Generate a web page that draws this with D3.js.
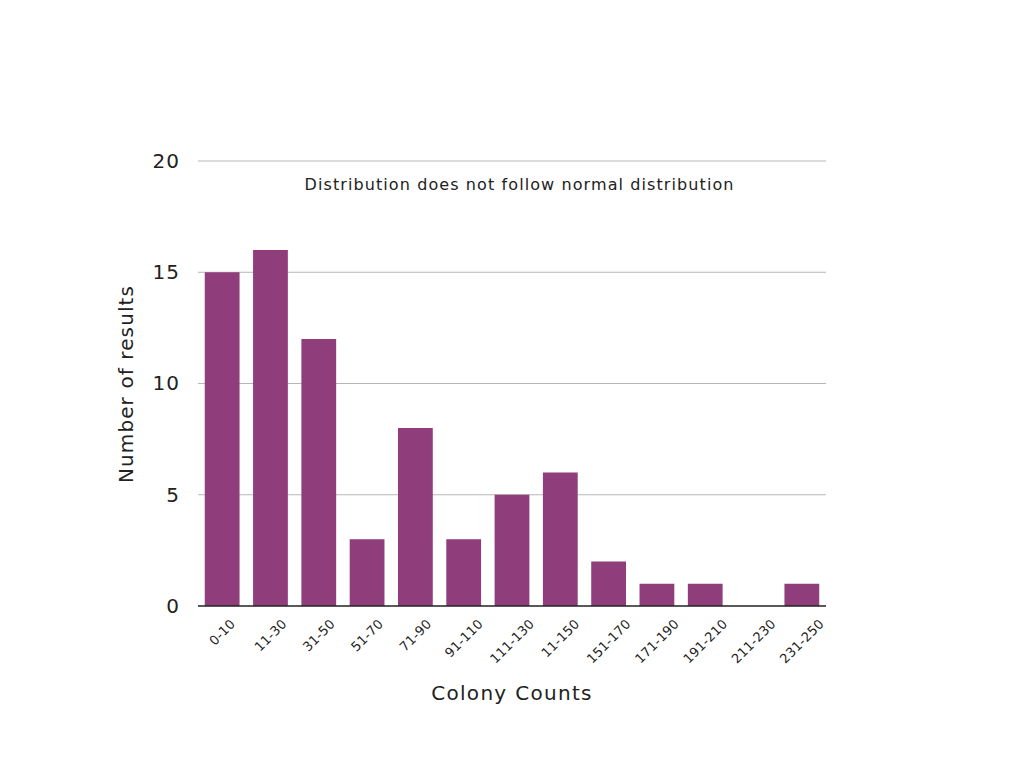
<!DOCTYPE html>
<html><head><meta charset="utf-8">
<script src="https://cdn.jsdelivr.net/npm/d3@7"></script>
<style>body{margin:0;background:#fff}text{font-family:"DejaVu Sans",sans-serif;fill:#222}</style>
</head><body><svg id="c" width="1024" height="768"></svg>
<script>
const categories = ["0-10","11-30","31-50","51-70","71-90","91-110","111-130","11-150","151-170","171-190","191-210","211-230","231-250"];
const counts = [15,16,12,3,8,3,5,6,2,1,1,0,1];
const yTicks = [0,5,10,15,20];
const annotation = "Distribution does not follow normal distribution";

const svg = d3.select("#c");
const m = {l:198, r:826, t:161, b:606};
const x = d3.scaleBand().domain(categories).range([m.l, m.r]).paddingInner(0.28).paddingOuter(0.14);
const y = d3.scaleLinear().domain([0,20]).range([m.b, m.t]);

svg.append("g").selectAll("line").data(yTicks.filter(d=>d>0)).join("line")
  .attr("x1", m.l).attr("x2", m.r).attr("y1", d=>y(d)).attr("y2", d=>y(d))
  .attr("stroke", "#b7b7b7").attr("stroke-width", 1);

svg.append("g").selectAll("rect").data(counts).join("rect")
  .attr("x", (d,i)=>x(categories[i])).attr("width", x.bandwidth())
  .attr("y", d=>y(d)).attr("height", d=>y(0)-y(d)).attr("fill", "#8f3d7b");

svg.append("line").attr("x1", m.l).attr("x2", m.r).attr("y1", y(0)).attr("y2", y(0))
  .attr("stroke", "#222").attr("stroke-width", 1.3);

const yAxis = d3.axisLeft(y).tickValues(yTicks).tickSize(0).tickPadding(18);
const gy = svg.append("g").attr("transform", `translate(${m.l},0)`).call(yAxis);
gy.select(".domain").remove();
gy.selectAll("text").style("font-size","20px").style("letter-spacing","1px").attr("fill","#222");

const xAxis = d3.axisBottom(x).tickSize(0).tickPadding(0);
const gx = svg.append("g").attr("transform", `translate(0,${m.b})`).call(xAxis);
gx.select(".domain").remove();
gx.selectAll(".tick").attr("transform", null);
gx.selectAll("text").style("font-size","13px").style("letter-spacing","0.2px").attr("fill","#222")
  .attr("text-anchor","middle").attr("y",0).attr("dy","0.35em")
  .each(function(d){
    const L = this.getComputedTextLength();
    const h = 10;
    const cx = x(d) + x.bandwidth()/2;
    const cy = 12 + (L + h) / (2*Math.SQRT2);
    d3.select(this).attr("transform", `translate(${cx},${cy}) rotate(-45)`);
  });

svg.append("text").attr("x", 519).attr("y", 190).attr("text-anchor","middle")
  .attr("textLength", 429).attr("lengthAdjust","spacing")
  .style("font-size","16px").text(annotation);
svg.append("text").attr("x", 512).attr("y", 700).attr("text-anchor","middle")
  .style("font-size","20px").style("letter-spacing","1.3px").text("Colony Counts");
svg.append("text").attr("transform","translate(133,384) rotate(-90)").attr("text-anchor","middle")
  .style("font-size","20px").style("letter-spacing","1.1px").text("Number of results");
</script></body></html>
